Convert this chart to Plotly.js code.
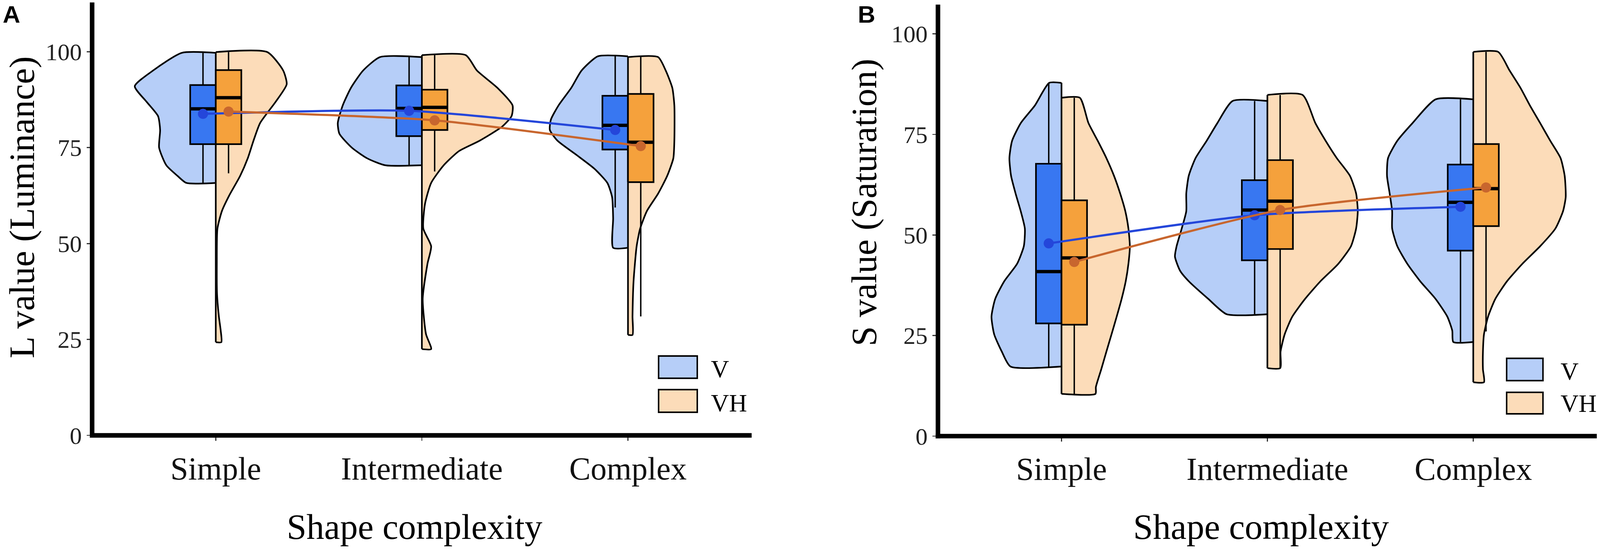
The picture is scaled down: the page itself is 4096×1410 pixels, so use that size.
<!DOCTYPE html>
<html><head><meta charset="utf-8">
<script src="https://cdn.plot.ly/plotly-3.0.1.min.js"></script>
<style>html,body{margin:0;padding:0;background:#fff;}#chart{width:4096px;height:1410px;}</style>
</head><body><div id="chart"></div>
<script>
// ---------------- data ----------------
const categories = ['Simple', 'Intermediate', 'Complex'];
const yTickVals = [0, 25, 50, 75, 100];
const groups = ['V', 'VH'];

// Panel A (L value) violin outlines: values and half-widths (category units)
const A_V_Simple_y = [99.7, 95.1, 91.0, 86.9, 83.2, 79.6, 75.0, 70.4, 67.6, 65.8];
const A_V_Simple_w = [0.165, 0.304, 0.393, 0.335, 0.28, 0.27, 0.275, 0.24, 0.185, 0.143];
const A_VH_Simple_y = [99.9, 95.1, 91.5, 86.9, 81.4, 76.8, 72.2, 67.6, 62.5, 58.5, 53.9, 45.0, 37.0, 31.0, 27.3, 24.3];
const A_VH_Simple_w = [0.25, 0.327, 0.344, 0.29, 0.215, 0.183, 0.155, 0.118, 0.065, 0.03, 0.008, 0.005, 0.006, 0.015, 0.024, 0.027];
const A_V_Inter_y = [98.6, 95.1, 90.6, 86.0, 81.4, 78.6, 75.0, 72.2, 70.4];
const A_V_Inter_w = [0.203, 0.285, 0.344, 0.384, 0.408, 0.40, 0.34, 0.265, 0.178];
const A_VH_Inter_y = [99.1, 95.1, 90.6, 86.0, 83.2, 80.5, 76.8, 74.1, 70.4, 65.8, 60.3, 53.9, 49.3, 44.7, 35.6, 26.4, 22.5];
const A_VH_Inter_w = [0.213, 0.267, 0.366, 0.44, 0.435, 0.39, 0.28, 0.18, 0.106, 0.045, 0.015, 0.007, 0.045, 0.027, 0.004, 0.02, 0.045];
const A_V_Complex_y = [98.8, 95.1, 90.6, 86.0, 82.3, 79.6, 76.8, 73.1, 69.5, 65.8, 62.1, 56.6, 48.9];
const A_V_Complex_w = [0.146, 0.225, 0.275, 0.337, 0.374, 0.379, 0.342, 0.25, 0.163, 0.10, 0.077, 0.072, 0.072];
const A_VH_Complex_y = [98.6, 95.1, 90.6, 86.0, 76.8, 72.2, 67.6, 63.0, 58.5, 53.9, 49.3, 40.1, 31.0, 26.2];
const A_VH_Complex_w = [0.146, 0.183, 0.215, 0.225, 0.225, 0.22, 0.19, 0.146, 0.092, 0.059, 0.042, 0.027, 0.022, 0.022];

// Panel A box statistics (Simple, Intermediate, Complex)
const A_V_q1 = [75.9, 78.0, 74.5];
const A_V_med = [85.1, 85.2, 80.8];
const A_V_q3 = [91.3, 91.2, 88.5];
const A_V_lo = [65.8, 70.4, 59.4];
const A_V_hi = [99.7, 98.6, 98.8];
const A_V_mean = [83.8, 84.6, 79.6];
const A_VH_q1 = [75.9, 79.6, 66.0];
const A_VH_med = [88.0, 85.5, 76.4];
const A_VH_q3 = [95.2, 90.1, 89.0];
const A_VH_lo = [68.3, 68.8, 31.0];
const A_VH_hi = [99.9, 99.1, 98.6];
const A_VH_mean = [84.4, 82.1, 75.4];

// Panel B (S value) violin outlines
const B_V_Simple_y = [87.8, 82.2, 77.8, 73.4, 69.1, 64.7, 60.3, 55.9, 51.6, 47.2, 42.8, 38.5, 34.1, 29.7, 25.3, 21.0, 17.3];
const B_V_Simple_w = [0.06, 0.129, 0.198, 0.24, 0.253, 0.245, 0.223, 0.198, 0.178, 0.183, 0.216, 0.278, 0.322, 0.34, 0.327, 0.29, 0.248];
const B_VH_Simple_y = [84.1, 77.8, 73.4, 69.1, 64.7, 60.3, 55.9, 51.6, 47.2, 42.8, 38.5, 34.1, 29.7, 25.3, 21.0, 16.6, 12.2, 10.5];
const B_VH_Simple_w = [0.089, 0.131, 0.176, 0.218, 0.255, 0.285, 0.31, 0.325, 0.332, 0.325, 0.312, 0.292, 0.268, 0.243, 0.218, 0.193, 0.167, 0.165];
const B_V_Inter_y = [83.3, 77.8, 73.4, 69.1, 64.7, 60.3, 55.9, 51.6, 47.2, 44.6, 41.1, 38.5, 34.1, 30.3];
const B_V_Inter_w = [0.169, 0.243, 0.295, 0.349, 0.382, 0.394, 0.394, 0.416, 0.441, 0.449, 0.424, 0.382, 0.287, 0.198];
const B_VH_Inter_y = [84.8, 77.8, 73.4, 69.1, 64.7, 60.3, 55.9, 51.6, 47.2, 42.8, 38.5, 34.1, 29.7, 25.3, 21.0, 16.9];
const B_VH_Inter_w = [0.171, 0.233, 0.283, 0.337, 0.401, 0.431, 0.439, 0.431, 0.406, 0.344, 0.258, 0.183, 0.121, 0.084, 0.064, 0.062];
const B_V_Complex_y = [83.7, 77.8, 73.4, 69.1, 64.7, 60.3, 55.9, 51.6, 47.2, 42.8, 38.5, 34.1, 29.7, 26.2, 23.4];
const B_V_Complex_w = [0.183, 0.295, 0.369, 0.414, 0.419, 0.406, 0.394, 0.394, 0.369, 0.32, 0.258, 0.183, 0.126, 0.102, 0.097];
const B_VH_Complex_y = [95.5, 90.9, 86.5, 82.2, 77.8, 73.4, 69.1, 64.7, 59.4, 55.9, 51.6, 47.2, 42.8, 38.5, 34.1, 29.7, 25.3, 21.0, 16.6, 13.4];
const B_VH_Complex_w = [0.121, 0.176, 0.23, 0.275, 0.325, 0.374, 0.424, 0.444, 0.449, 0.436, 0.399, 0.325, 0.238, 0.164, 0.107, 0.072, 0.052, 0.047, 0.047, 0.052];

// Panel B box statistics
const B_V_q1 = [28.0, 43.7, 46.1];
const B_V_med = [40.9, 56.2, 58.1];
const B_V_q3 = [67.7, 63.6, 67.5];
const B_V_lo = [17.3, 30.3, 23.4];
const B_V_hi = [87.8, 83.3, 83.7];
const B_V_mean = [47.9, 54.9, 57.0];
const B_VH_q1 = [27.7, 46.5, 52.2];
const B_VH_med = [44.3, 58.4, 61.5];
const B_VH_q3 = [58.6, 68.6, 72.6];
const B_VH_lo = [10.5, 16.9, 26.0];
const B_VH_hi = [84.1, 84.8, 95.5];
const B_VH_mean = [43.3, 56.2, 61.8];

// ---------------- styling ----------------
const W = 4096, H = 1410;
const px = x => x / W, py = y => 1 - y / H;
const SERIF = 'Liberation Serif, Times New Roman, serif';
const colV = '#B6CEF8', colVH = '#FCDCB9', boxV = '#3877F1', boxVH = '#F5A13C';
const meanV = '#2446DA', meanVH = '#C8662E';
const BW = 0.124;
const OUT = 4.2;

function panelTraces(xa, ya, vio, st) {
  const traces = [];
  const base = {xaxis: xa, yaxis: ya, hoverinfo: 'skip', showlegend: false};
  // violins
  vio.forEach((pair, i) => {
    const c = i + 1;
    [['V', -1, colV], ['VH', 1, colVH]].forEach(([g, s, col]) => {
      const ys = pair[g][0], ws = pair[g][1];
      const x = [c], y = [ys[0]];
      ys.forEach((v, k) => { x.push(c + s * ws[k]); y.push(v); });
      x.push(c); y.push(ys[ys.length - 1]);
      traces.push(Object.assign({type: 'scatter', mode: 'lines', x, y, fill: 'toself', fillcolor: col,
        line: {color: '#000', width: OUT, shape: 'spline', smoothing: 0.6}}, base));
    });
    const top = Math.max(pair.V[0][0], pair.VH[0][0]);
    const bot = Math.min(pair.V[0][pair.V[0].length - 1], pair.VH[0][pair.VH[0].length - 1]);
    traces.push(Object.assign({type: 'scatter', mode: 'lines', x: [c, c], y: [bot, top],
      line: {color: '#000', width: OUT}}, base));
  });
  // whiskers, boxes, medians
  [['V', -1, boxV], ['VH', 1, boxVH]].forEach(([g, s, col]) => {
    const S = st[g];
    for (let i = 0; i < 3; i++) {
      const c = i + 1, xc = c + s * BW / 2;
      traces.push(Object.assign({type: 'scatter', mode: 'lines', x: [xc, xc], y: [S.lo[i], S.hi[i]],
        line: {color: '#000', width: 3.6}}, base));
    }
    for (let i = 0; i < 3; i++) {
      const c = i + 1, x0 = c, x1 = c + s * BW;
      traces.push(Object.assign({type: 'scatter', mode: 'lines',
        x: [x0, x1, x1, x0, x0], y: [S.q1[i], S.q1[i], S.q3[i], S.q3[i], S.q1[i]],
        fill: 'toself', fillcolor: col, line: {color: '#000', width: OUT}}, base));
      traces.push(Object.assign({type: 'scatter', mode: 'lines', x: [x0, x1], y: [S.med[i], S.med[i]],
        line: {color: '#000', width: 8.5}}, base));
    }
  });
  // mean lines + points
  [['V', -1, meanV], ['VH', 1, meanVH]].forEach(([g, s, col]) => {
    const S = st[g];
    traces.push(Object.assign({type: 'scatter', mode: 'lines+markers',
      x: [1, 2, 3].map(c => c + s * BW / 2), y: S.mean,
      line: {color: col, width: 5.5, shape: 'spline', smoothing: 0.6},
      marker: {color: col, size: 26}}, base));
  });
  return traces;
}

const traces = [].concat(
  panelTraces('x', 'y', [
    {V: [A_V_Simple_y, A_V_Simple_w], VH: [A_VH_Simple_y, A_VH_Simple_w]},
    {V: [A_V_Inter_y, A_V_Inter_w], VH: [A_VH_Inter_y, A_VH_Inter_w]},
    {V: [A_V_Complex_y, A_V_Complex_w], VH: [A_VH_Complex_y, A_VH_Complex_w]}
  ], {
    V: {q1: A_V_q1, med: A_V_med, q3: A_V_q3, lo: A_V_lo, hi: A_V_hi, mean: A_V_mean},
    VH: {q1: A_VH_q1, med: A_VH_med, q3: A_VH_q3, lo: A_VH_lo, hi: A_VH_hi, mean: A_VH_mean}
  }),
  panelTraces('x2', 'y2', [
    {V: [B_V_Simple_y, B_V_Simple_w], VH: [B_VH_Simple_y, B_VH_Simple_w]},
    {V: [B_V_Inter_y, B_V_Inter_w], VH: [B_VH_Inter_y, B_VH_Inter_w]},
    {V: [B_V_Complex_y, B_V_Complex_w], VH: [B_VH_Complex_y, B_VH_Complex_w]}
  ], {
    V: {q1: B_V_q1, med: B_V_med, q3: B_V_q3, lo: B_V_lo, hi: B_V_hi, mean: B_V_mean},
    VH: {q1: B_VH_q1, med: B_VH_med, q3: B_VH_q3, lo: B_VH_lo, hi: B_VH_hi, mean: B_VH_mean}
  })
);

// geometry (px in the 4096x1410 window)
const A = {xl: 235.8, xr: 1924.2, yb: 1114.2, yt: 6.3, ytop: 112.83};
const B = {xl: 2401.2, xr: 4087.8, yb: 1116.0, yt: 11.7, ytop: 107.26};

function xAxis(P, anchor) {
  return {domain: [px(P.xl), px(P.xr)], range: [0.4, 3.6], anchor,
    tickvals: [1, 2, 3], ticktext: categories, ticks: 'outside', ticklen: 13, tickwidth: 2.6, tickcolor: '#333',
    showline: false, showgrid: false, zeroline: false, fixedrange: true,
    tickfont: {family: SERIF, size: 82, color: '#111'}};
}
function yAxis(P, anchor) {
  return {domain: [py(P.yb), py(P.yt)], range: [0, P.ytop], anchor,
    tickvals: yTickVals, ticktext: yTickVals.map(String), ticks: 'outside', ticklen: 13, tickwidth: 2.6, tickcolor: '#333',
    showline: false, showgrid: false, zeroline: false, fixedrange: true,
    tickfont: {family: SERIF, size: 62, color: '#222'}};
}

const LW = 11.7;
const shapes = [];
[A, B].forEach(P => {
  shapes.push({type: 'line', xref: 'paper', yref: 'paper', x0: px(P.xl), x1: px(P.xl), y0: py(P.yt), y1: py(P.yb + LW / 2),
    line: {color: '#000', width: LW}, layer: 'above'});
  shapes.push({type: 'line', xref: 'paper', yref: 'paper', x0: px(P.xl - LW / 2), x1: px(P.xr), y0: py(P.yb), y1: py(P.yb),
    line: {color: '#000', width: LW}, layer: 'above'});
});
// legend swatches
const legendBoxes = [
  {x0: 1686, x1: 1785, y0: 911, y1: 968, c: colV}, {x0: 1686, x1: 1785, y0: 997, y1: 1055, c: colVH},
  {x0: 3857, x1: 3950, y0: 917, y1: 974, c: colV}, {x0: 3857, x1: 3950, y0: 1004, y1: 1059, c: colVH}
];
legendBoxes.forEach(b => shapes.push({type: 'rect', xref: 'paper', yref: 'paper',
  x0: px(b.x0), x1: px(b.x1), y0: py(b.y1), y1: py(b.y0), fillcolor: b.c, line: {color: '#000', width: 3.8}}));

const ann = [];
function txt(text, x, y, size, opts) {
  ann.push(Object.assign({text, x: px(x), y: py(y), xref: 'paper', yref: 'paper', showarrow: false,
    xanchor: 'center', yanchor: 'middle', font: {family: SERIF, size, color: '#000'}}, opts || {}));
}
txt('L value (Luminance)', 56, 531, 92, {textangle: -90});
txt('S value (Saturation)', 2212, 518, 92, {textangle: -90});
txt('Shape complexity', 1061, 1348, 91);
txt('Shape complexity', 3228, 1348, 91);
txt('V', 1818, 944, 64, {xanchor: 'left'});
txt('VH', 1818, 1031, 64, {xanchor: 'left'});
txt('V', 3993, 950, 64, {xanchor: 'left'});
txt('VH', 3993, 1032, 64, {xanchor: 'left'});
const SANS = {family: 'Liberation Sans, Arial, sans-serif', size: 62, color: '#000'};
txt('<b>A</b>', 29, 0, 62, {yanchor: 'top', font: SANS});
txt('<b>B</b>', 2218, 0, 62, {yanchor: 'top', font: SANS});

const layout = {
  width: W, height: H, margin: {l: 0, r: 0, t: 0, b: 0}, paper_bgcolor: '#fff', plot_bgcolor: 'rgba(0,0,0,0)',
  showlegend: false,
  xaxis: xAxis(A, 'y'), yaxis: yAxis(A, 'x'),
  xaxis2: xAxis(B, 'y2'), yaxis2: yAxis(B, 'x2'),
  shapes, annotations: ann
};
Plotly.newPlot('chart', traces, layout, {staticPlot: true, displayModeBar: false});
</script></body></html>
